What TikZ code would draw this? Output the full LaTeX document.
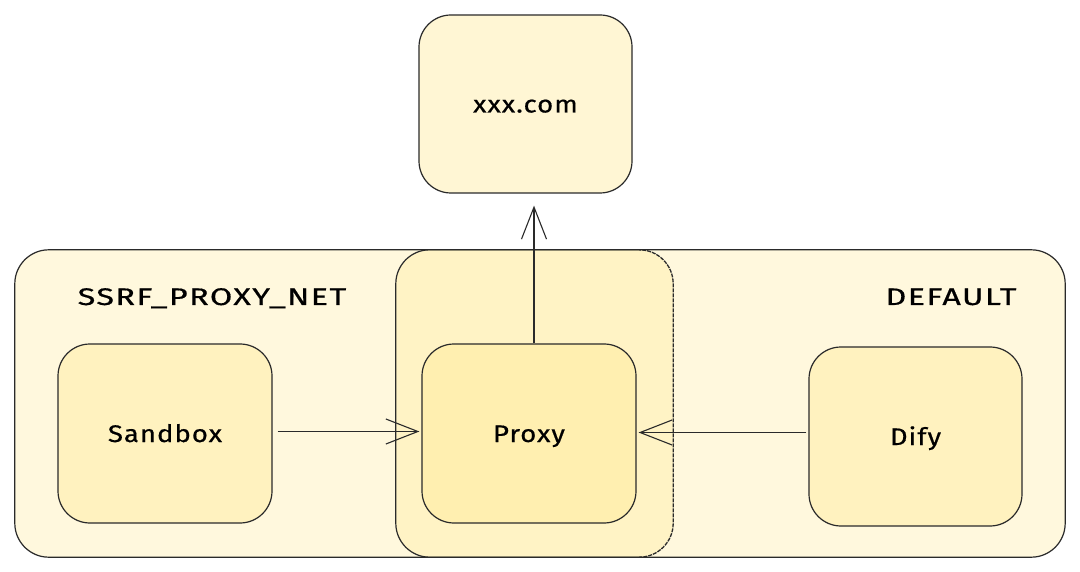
\documentclass[tikz,border=0pt]{standalone}
\usepackage{fontspec}
\setmainfont{Fira Sans}
\newfontfamily\zonefont[FakeStretch=1.35,LetterSpace=6,FakeBold=0.6]{Fira Sans}
\newfontfamily\boxfont[FakeStretch=1.15,LetterSpace=4,FakeBold=0.6]{Fira Sans}
\usetikzlibrary{arrows.meta}
\definecolor{strokec}{HTML}{2A2A2A}
\definecolor{fillc}{HTML}{FFE98F}
\tikzset{
  zone/.style={draw=none, rounded corners=34pt, fill=fillc, fill opacity=0.30, text opacity=1},
  edge/.style={draw=strokec, line width=1.2pt, rounded corners=34pt},
  box/.style={draw=strokec, line width=1.2pt, rounded corners=32pt, fill=fillc, fill opacity=0.38, text opacity=1, font=\boxfont\fontsize{24}{28}\selectfont, text=black, text height=20pt, text depth=3pt},
  lbl/.style={font=\zonefont\fontsize{24}{28}\selectfont, text=black, anchor=base},
  conn/.style={draw=strokec, line width=1.1pt, -{Straight Barb[length=32pt,width=25pt,line width=1.1pt]}}
}
\begin{document}
\begin{tikzpicture}[x=1pt,y=-1pt]
\useasboundingbox (0,0) rectangle (1080,572);
\fill[white] (0,0) rectangle (1080,572);
% zones
\node[zone, minimum width=658pt, minimum height=307pt] (netL) at (344,403.5) {};
\draw[edge] (netL.north -| 640,0) -- (netL.north west) -- (netL.south west) -- (netL.south -| 640,0);
\node[zone, minimum width=669pt, minimum height=307pt] (netR) at (730.5,403.5) {};
\draw[edge] (netR.north west) rectangle (netR.south east);
\draw[strokec, line width=1.3pt, dash pattern=on 4pt off 1pt, rounded corners=34pt] (netL.south -| 640,0) -- (netL.south east) -- (netL.north east) -- (netL.north -| 640,0);
\node[lbl] (lblL) at (212,305) {SSRF\_PROXY\_NET};
\node[lbl] (lblR) at (951,305) {DEFAULT};
% boxes
\node[box, minimum width=213pt, minimum height=178pt] (xxx) at (525.5,104) {xxx.com};
\node[box, minimum width=214pt, minimum height=179pt] (sandbox) at (165,433.5) {Sandbox};
\node[box, minimum width=214pt, minimum height=179pt] (proxy) at (529,433.5) {Proxy};
\node[box, minimum width=213pt, minimum height=179pt] (dify) at (915.5,436.5) {Dify};
% connectors
\draw[conn, shorten <=5pt, shorten >=2pt] (sandbox.east |- 0,431.5) -- (proxy.west |- 0,431.5);
\draw[conn, shorten <=2pt, shorten >=2pt] (dify.west |- 0,432.5) -- (proxy.east |- 0,432.5);
\draw[conn, shorten >=12pt] (proxy.north -| 534,0) -- (xxx.south -| 534,0);
\end{tikzpicture}
\end{document}
